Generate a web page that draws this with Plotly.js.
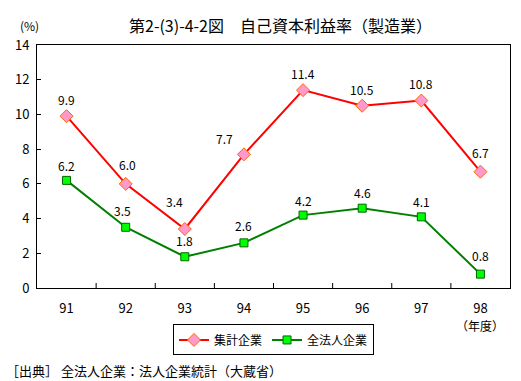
<!DOCTYPE html>
<html><head><meta charset="utf-8">
<script src="https://cdn.plot.ly/plotly-3.0.1.min.js"></script>
<style>body{margin:0;background:#fff}#c{width:521px;height:381px}</style>
</head><body><div id="c"></div>
<script>
var years = ["91","92","93","94","95","96","97","98"];
var shukei = [9.9, 6.0, 3.4, 7.7, 11.4, 10.5, 10.8, 6.7];
var zenhojin = [6.2, 3.5, 1.8, 2.6, 4.2, 4.6, 4.1, 0.8];
// label offsets (style only, in pixels)
var shukeiDx = [0, 2, -10, -19, 0, 0, 0, 0];
var shukeiDy = [17, 19, 27, 16, 17, 16, 17, 19];
var zenDx = [0, -3, 0, 0, 0, 0, 0, 0];
var zenDy = [15, 17, 16, 17, 15, 16, 15, 19];
var F = "'Noto Sans CJK JP', sans-serif";

var traces = [
  {x: years, y: shukei, name: "集計企業", type: "scatter", mode: "lines+markers",
   line: {color: "#ff0000", width: 2},
   marker: {symbol: "diamond", size: 10, color: "#ff99cc", line: {color: "#ff6600", width: 1}}},
  {x: years, y: zenhojin, name: "全法人企業", type: "scatter", mode: "lines+markers",
   line: {color: "#008000", width: 2},
   marker: {symbol: "square", size: 8, color: "#00ff00", line: {color: "#006600", width: 1}}}
];

var annotations = [];
function addLabels(vals, dx, dy) {
  vals.forEach(function(v, i){
    annotations.push({x: i, y: v, xref: "x", yref: "y", text: v.toFixed(1),
      showarrow: false, xanchor: "center", yanchor: "middle", xshift: dx[i], yshift: dy[i],
      font: {family: F, size: 12, color: "#000"}});
  });
}
addLabels(shukei, shukeiDx, shukeiDy);
addLabels(zenhojin, zenDx, zenDy);

annotations.push(
  {text: "第2-(3)-4-2図　自己資本利益率（製造業）", xref: "paper", yref: "paper",
   x: 0.515, y: 1, yshift: 20, xanchor: "center", yanchor: "middle", showarrow: false,
   font: {family: F, size: 16}},
  {text: "(%)", xref: "paper", yref: "paper", x: 0, xshift: -8, y: 1, yshift: 20,
   xanchor: "center", yanchor: "middle", showarrow: false, font: {family: F, size: 12}},
  {text: "（年度）", xref: "paper", yref: "paper", x: 0.9375, y: 0, yshift: -37,
   xanchor: "center", yanchor: "middle", showarrow: false, font: {family: F, size: 12}},
  {text: "［出典］ 全法人企業：法人企業統計（大蔵省）", xref: "paper", yref: "paper",
   x: 0, xshift: -33, y: 0, yshift: -82, xanchor: "left", yanchor: "middle",
   showarrow: false, font: {family: F, size: 13}}
);

// tick marks between categories, at category boundaries
var shapes = years.slice(1).map(function(_, i){
  return {type: "line", xref: "x", yref: "paper", x0: i + 0.5, x1: i + 0.5,
          ysizemode: "pixel", yanchor: 0, y0: 0, y1: 5,
          line: {color: "#000", width: 1}};
});

var layout = {
  width: 521, height: 381,
  paper_bgcolor: "#fff", plot_bgcolor: "#fff",
  margin: {l: 37, r: 11, t: 45, b: 93},
  font: {family: F, size: 13, color: "#000"},
  showlegend: true,
  legend: {orientation: "h", x: 0.5, xanchor: "center", y: -0.15, yanchor: "top",
           bordercolor: "#000", borderwidth: 1, font: {family: F, size: 12},
           itemwidth: 30, tracegroupgap: 0},
  xaxis: {type: "category", range: [-0.5, 7.5], showline: true, linecolor: "#000", linewidth: 1,
          mirror: true, ticks: "", showgrid: false, zeroline: false, ticklabelstandoff: 8,
          tickfont: {family: F, size: 13}},
  yaxis: {range: [0, 14], dtick: 2, showline: true, linecolor: "#000", linewidth: 1,
          mirror: true, ticks: "inside", ticklen: 4, tickcolor: "#000",
          showgrid: false, zeroline: false, ticklabelstandoff: 4,
          tickfont: {family: F, size: 13}},
  shapes: shapes,
  annotations: annotations
};
Plotly.newPlot("c", traces, layout, {displayModeBar: false, staticPlot: true});
</script></body></html>
